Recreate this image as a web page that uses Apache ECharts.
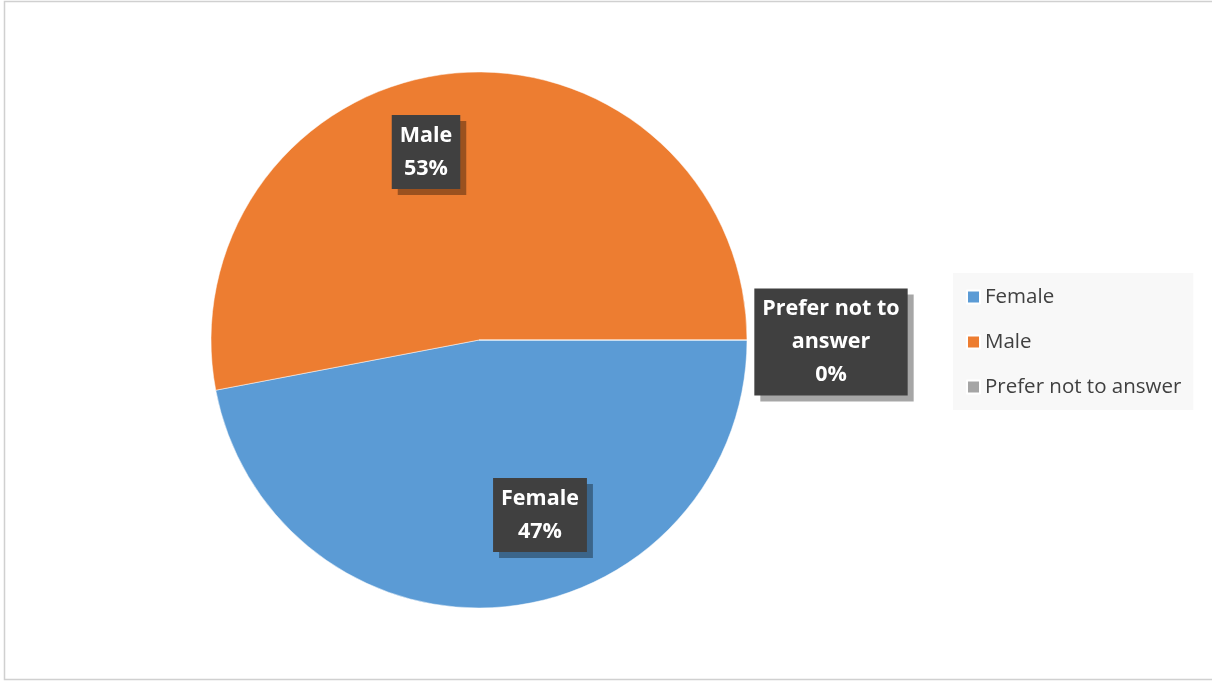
<!DOCTYPE html>
<html>
<head>
<meta charset="utf-8">
<script src="https://cdn.jsdelivr.net/npm/echarts@6/dist/echarts.min.js"></script>
<style>
html,body{margin:0;padding:0;background:#fff;}
#chart{width:1212px;height:681px;}
</style>
</head>
<body>
<div id="chart"></div>
<script>
const categories = ['Female', 'Male', 'Prefer not to answer'];
const values = [47, 53, 0];
const colors = ['#5b9bd5', '#ed7d31', '#a5a5a5'];

// label box centre offsets relative to pie centre (layout only)
const labelOffsets = {
  'Female': [61, 174],
  'Male': [-53, -189],
  'Prefer not to answer': [352, 1]
};
const pieCenter = [479, 340];

function wrapName(name) {
  if (name.length <= 13) return name;
  const words = name.split(' ');
  let lines = [], cur = '';
  words.forEach(w => {
    const t = cur ? cur + ' ' + w : w;
    if (t.length > 13 && cur) { lines.push(cur); cur = w; } else cur = t;
  });
  if (cur) lines.push(cur);
  return lines.join('\n');
}

const chart = echarts.init(document.getElementById('chart'), null, {renderer: 'canvas'});
const fontFam = '"Open Sans", Lato, sans-serif';

chart.setOption({
  animation: false,
  backgroundColor: '#ffffff',
  color: colors,
  graphic: [{
    type: 'rect',
    shape: {x: 4.5, y: 1.5, width: 1212, height: 678},
    style: {fill: 'none', stroke: '#d0d0d0', lineWidth: 1.5},
    silent: true
  }],
  legend: {
    orient: 'vertical',
    left: 953,
    top: 273,
    padding: [13, 12, 12, 13],
    backgroundColor: '#f8f8f8',
    icon: 'rect',
    itemWidth: 13,
    itemHeight: 13,
    itemGap: 23,
    textStyle: {fontFamily: fontFam, fontSize: 20.5, color: '#404040', lineHeight: 22},
    data: categories
  },
  series: [{
    type: 'pie',
    center: pieCenter,
    radius: 268,
    startAngle: 0,
    clockwise: true,
    percentPrecision: 0,
    itemStyle: {borderColor: '#ffffff', borderWidth: 0.5},
    labelLine: {show: false},
    label: {
      show: true,
      position: 'inside',
      formatter: p => wrapName(p.name) + '\n' + Math.round(p.percent) + '%',
      fontFamily: fontFam,
      fontWeight: 'bold',
      fontSize: 21.5,
      lineHeight: 33,
      color: '#ffffff',
      align: 'center',
      verticalAlign: 'middle',
      backgroundColor: '#404040',
      padding: [8, 8, 0, 8],
      shadowColor: 'rgba(0,0,0,0.35)',
      shadowBlur: 0,
      shadowOffsetX: 6,
      shadowOffsetY: 6
    },
    labelLayout: function (params) {
      const name = categories[params.dataIndex];
      const off = labelOffsets[name];
      return {x: pieCenter[0] + off[0], y: pieCenter[1] + off[1] + 1, align: 'center', verticalAlign: 'middle'};
    },
    data: categories.map((c, i) => ({name: c, value: values[i]}))
  }]
});
</script>
</body>
</html>
